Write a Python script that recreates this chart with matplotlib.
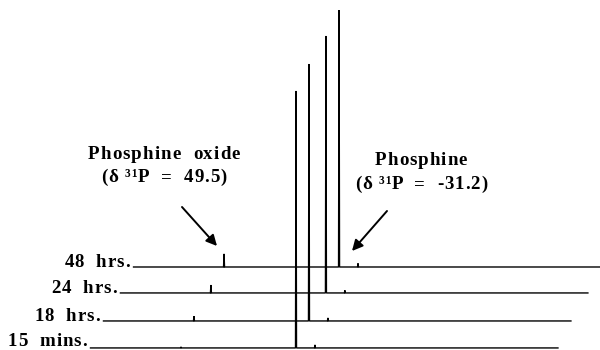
import matplotlib
matplotlib.use("Agg")
import matplotlib.pyplot as plt
import numpy as np
from matplotlib.transforms import offset_copy

# ---------------- data ----------------
trace_labels = ["15  mins.", "18  hrs.", "24  hrs.", "48  hrs."]
peak_ppm = [49.5, -31.2, -44.5]            # phosphine oxide, phosphine, minor
oxide_height = [0.4, 1.9, 3.1, 5.1]        # relative intensity (phosphine = 100)
phosphine_height = [100, 100, 100, 100]
minor_height = [1.2, 1.2, 1.0, 1.4]
ppm_start, ppm_end = 113.0, -215.0

# stacking (styling / layout)
x_shift = [0.0, 9.1, 21.0, 30.2]          # ppm shift of each stacked trace
y_shift = [0.8, 11.3, 22.2, 32.3]         # vertical offset of each trace
W = 0.35                                   # half width of peaks (ppm)

FIG_W, FIG_H = 600, 350
fig = plt.figure(figsize=(6, 3.5), dpi=100)
ax = fig.add_axes([0, 0, 1, 1])
ax.set_xlim(176.5, -244.5)
ax.set_ylim(0, 136.2)
ax.axis("off")

FONT = dict(family=["Liberation Serif", "DejaVu Serif"], weight="bold", size=13.6)

for i in range(len(trace_labels)):
    xs = [ppm_start]
    ys = [0.0]
    for p, h in zip(peak_ppm, [oxide_height[i], phosphine_height[i], minor_height[i]]):
        xs += [p + W, p, p - W]
        ys += [0.0, h, 0.0]
    xs.append(ppm_end)
    ys.append(0.0)
    xs = np.array(xs) - x_shift[i]
    ys = np.array(ys) + y_shift[i]
    ax.plot(xs, ys, color="black", lw=1.0, solid_joinstyle="miter", zorder=2)

renderer = fig.canvas.get_renderer()


def text_width(s):
    t = fig.text(0, 0, s + "|", **FONT)
    w1 = t.get_window_extent(renderer).width
    t.remove()
    t = fig.text(0, 0, "|", **FONT)
    w2 = t.get_window_extent(renderer).width
    t.remove()
    return w1 - w2


def spaced_text(s, x_px, y_px, ha="center", spacing=1.0, base_tr=None, x_data=None):
    """Draw letter-spaced text, either at figure pixels (from top-left)
    or anchored to a data point through base_tr."""
    n = len(s)
    total = text_width(s) + (n - 1) * spacing
    if ha == "center":
        start = -total / 2
    elif ha == "right":
        start = -total
    else:
        start = 0
    for k, ch in enumerate(s):
        if ch == " ":
            continue
        off = start + text_width(s[:k]) + k * spacing
        if base_tr is None:
            tr = offset_copy(fig.transFigure, fig=fig, x=x_px + off, y=FIG_H - y_px, units="dots")
            fig.text(0, 0, ch, transform=tr, ha="left", va="baseline", **FONT)
        else:
            tr = offset_copy(base_tr, fig=fig, x=off, y=0, units="dots")
            ax.text(x_data[0], x_data[1], ch, transform=tr, ha="left", va="baseline", **FONT)


# trace labels, right-aligned just left of each trace start
label_lift = [2, 0, 0, 0]
for i, lab in enumerate(trace_labels):
    spaced_text(lab, 0, 0, ha="right", spacing=0.8,
                base_tr=offset_copy(ax.transData, fig=fig, x=-4, y=label_lift[i], units="dots"),
                x_data=(ppm_start - x_shift[i], y_shift[i]))

# annotations
spaced_text("Phosphine  oxide", 164, 159, spacing=1.0)
spaced_text("(δ ³¹P  =  49.5)", 164, 182, spacing=0.9)
spaced_text("Phosphine", 421, 165, spacing=1.0)
spaced_text("(δ ³¹P  =  -31.2)", 421, 189, spacing=0.9)


def px(x, y):
    return (x / FIG_W, 1 - y / FIG_H)


arrow = dict(arrowstyle="-|>", lw=1.4, color="black", mutation_scale=16,
             shrinkA=0, shrinkB=0)
ax.annotate("", xy=px(217, 246), xytext=px(182, 207), xycoords="figure fraction",
            textcoords="figure fraction", arrowprops=arrow)
ax.annotate("", xy=px(352, 251), xytext=px(387, 211), xycoords="figure fraction",
            textcoords="figure fraction", arrowprops=arrow)

fig.savefig("out.png", dpi=100, facecolor="white")
